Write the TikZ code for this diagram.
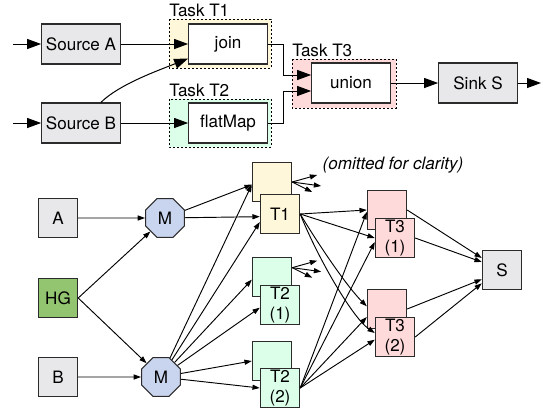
\documentclass[tikz,border=0pt]{standalone}
\usepackage{fontspec}
\setmainfont{TeX Gyre Heros}
\usetikzlibrary{arrows.meta,shapes.geometric}

\newcommand{\diagfont}{\fontsize{12.8}{14.5}\selectfont}

\definecolor{boxgray}{HTML}{E8E8EA}
\definecolor{tyellow}{HTML}{FFF7D9}
\definecolor{tgreen}{HTML}{DCFFE9}
\definecolor{tpink}{HTML}{FFDADA}
\definecolor{hggreen}{HTML}{93C470}
\definecolor{mblue}{HTML}{C9D4EE}
\definecolor{edgecol}{HTML}{2B2B2B}

\tikzset{
  op/.style={draw=edgecol, line width=0.8pt, minimum width=59pt, minimum height=30pt, inner sep=0pt, font=\diagfont},
  src/.style={op, fill=boxgray},
  taskbox/.style={draw=black, line width=0.7pt, dash pattern=on 1.3pt off 1.7pt},
  tasklabel/.style={anchor=south west, inner xsep=0pt, inner ysep=1.5pt, font=\diagfont},
  bigarrow/.style={line width=0.75pt, -{Triangle[length=10.5pt,width=7.5pt]}},
  inst/.style={draw=edgecol, line width=0.8pt, minimum width=29.5pt, minimum height=29.5pt, inner sep=0pt, align=center, font=\diagfont},
  mapper/.style={regular polygon, regular polygon sides=8, draw=edgecol, line width=0.8pt, fill=mblue, minimum size=31.5pt, inner sep=0pt, font=\diagfont},
  smallarrow/.style={line width=0.7pt, -{Triangle[length=5.5pt,width=3.8pt]}},
}

\begin{document}
\begin{tikzpicture}[x=0.75pt, y=-0.75pt]
		\useasboundingbox (0,0) rectangle (543,415);
		
		%%%%% LOGICAL PLAN %%%%%
		
		\draw[taskbox, fill=tyellow] (169,19) rectangle (271,68);
		\draw[taskbox, fill=tgreen] (169,99) rectangle (271,147);
		\draw[taskbox, fill=tpink] (292,59) rectangle (396,108);
		\node[tasklabel] (lblT1) at (169,19) {Task T1};
		\node[tasklabel] (lblT2) at (169,99) {Task T2};
		\node[tasklabel] (lblT3) at (292,59) {Task T3};
		
		\node[src] (srcA) at (81,44) {Source A};
		\node[src] (srcB) at (81,123) {Source B};
		\node[op, fill=white] (join) at (228,44) {join};
		\node[op, fill=white] (flatmap) at (228,123) {flatMap};
		\node[op, fill=white] (union) at (351,83) {union};
		\node[src] (sink) at (478,83) {Sink S};
		\coordinate (inA) at (13,44);
		\coordinate (inB) at (13,123);
		\coordinate (outS) at (541,83);
		
		\draw[bigarrow] (inA) -- (srcA);
		\draw[bigarrow] (inB) -- (srcB);
		\draw[bigarrow] (srcA) -- (join);
		\draw[bigarrow] (srcB) -- (flatmap);
		\draw[bigarrow] ([xshift=-15pt]srcB.north east) .. controls +(18,-18) and +(-30,12) .. (join.200);
		\draw[bigarrow] (join.east) -- ++(16,0) |- ([yshift=6pt]union.west);
		\draw[bigarrow] (flatmap.east) -- ++(16,0) |- ([yshift=-6pt]union.west);
		\draw[bigarrow] (union) -- (sink);
		\draw[bigarrow] (sink) -- (outS);
		
		%%%%% PARALLEL INSTANCES %%%%%
		
		\node[inst, fill=boxgray] (a) at (58,218) {A};
		\node[inst, fill=hggreen] (hg) at (58,298) {HG};
		\node[inst, fill=boxgray] (b) at (58,377) {B};
		\node[mapper] (mt) at (165,218) {M};
		\node[mapper] (mb) at (161,377) {M};
		
		\node[inst, fill=tyellow] (t1b) at (272,182) {};
		\node[inst, fill=tyellow] (t1f) at (280,214) {T1};
		\node[inst, fill=tgreen] (t21b) at (272,277) {};
		\node[inst, fill=tgreen] (t21f) at (280,305) {T2\\(1)};
		\node[inst, fill=tgreen] (t22b) at (272,361) {};
		\node[inst, fill=tgreen] (t22f) at (280,388) {T2\\(2)};
		\node[inst, fill=tpink] (t31b) at (387,210) {};
		\node[inst, fill=tpink] (t31f) at (395,238) {T3\\(1)};
		\node[inst, fill=tpink] (t32b) at (387,309) {};
		\node[inst, fill=tpink] (t32f) at (395,337) {T3\\(2)};
		\node[inst, fill=boxgray] (s) at (502,270) {S};
		\node[font=\diagfont\itshape] (omit) at (393,165) {(omitted for clarity)};
		
		\draw[smallarrow] (a) -- (mt);
		\draw[smallarrow] (hg.east) -- (mt);
		\draw[smallarrow] (hg.east) -- (mb);
		\draw[smallarrow] (b) -- (mb);
		
		\draw[smallarrow] (mt) -- ([yshift=-2pt]t1b.west);
		\draw[smallarrow] (mt) -- ([yshift=-2pt]t1f.west);
		\draw[smallarrow] (mb) -- ([yshift=-2pt]t1b.west);
		\draw[smallarrow] (mb) -- ([yshift=-6pt]t1f.west);
		\draw[smallarrow] (mb) -- ([yshift=-2pt]t21b.west);
		\draw[smallarrow] (mb) -- ([yshift=-2pt]t21f.west);
		\draw[smallarrow] (mb) -- (t22b.west);
		\draw[smallarrow] (mb) -- (t22f.west);
		
		% fan-out, omitted for clarity
		\foreach \dx/\dy in {25/-7, 29/4, 20/10} {
			\draw[smallarrow] (t1b.east) -- ++(\dx,\dy);
			\draw[smallarrow] ([yshift=7pt]t21b.east) -- ++(\dx,\dy);
		}
		
		\draw[smallarrow] (t1f.east) -- (t31b.west);
		\draw[smallarrow] (t1f.east) -- (t31f.west);
		\draw[smallarrow] (t1f.east) .. controls +(18,30) and +(-20,-20) .. ([yshift=2pt]t32b.west);
		\draw[smallarrow] (t1f.east) .. controls +(18,45) and +(-22,-15) .. ([yshift=3pt]t32f.west);
		
		\draw[smallarrow] (t22f.east) -- ([yshift=-1.5pt]t31b.west);
		\draw[smallarrow] (t22f.east) -- ([yshift=-3pt]t31f.west);
		\draw[smallarrow] (t22f.east) -- ([yshift=-6pt]t32b.west);
		\draw[smallarrow] (t22f.east) -- ([yshift=-2pt]t32f.west);
		
		\draw[smallarrow] (t31b.east) -- ([yshift=9pt]s.west);
		\draw[smallarrow] (t31f.east) -- ([yshift=6pt]s.west);
		\draw[smallarrow] (t32b.east) -- ([yshift=-7pt]s.west);
		\draw[smallarrow] (t32f.east) -- ([yshift=-10pt]s.west);
		
		%%%%% END %%%%%
\end{tikzpicture}
\end{document}
